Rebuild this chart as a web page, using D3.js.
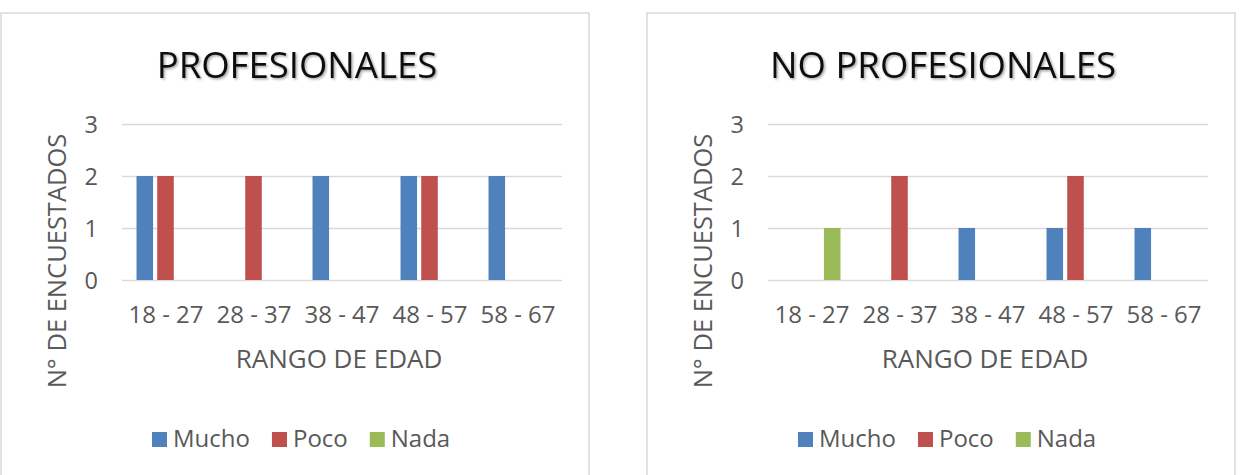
<!DOCTYPE html>
<html>
<head>
<meta charset="utf-8">
<script src="https://cdn.jsdelivr.net/npm/d3@7"></script>
<style>
  html, body { margin: 0; padding: 0; background: #fff; }
  svg { display: block; font-family: "Open Sans", sans-serif; }
</style>
</head>
<body>
<svg id="chart" width="1248" height="475"></svg>
<script>
// ---- data ----
const categories = ["18 - 27", "28 - 37", "38 - 47", "48 - 57", "58 - 67"];
const seriesNames = ["Mucho", "Poco", "Nada"];
const seriesColors = ["#4f81bd", "#c0504d", "#9bbb59"];
const yTicks = [0, 1, 2, 3];

const titles = ["PROFESIONALES", "NO PROFESIONALES"];
const profMucho = [2, 0, 2, 2, 2];
const profPoco  = [2, 2, 0, 2, 0];
const profNada  = [0, 0, 0, 0, 0];
const noProfMucho = [0, 0, 1, 1, 1];
const noProfPoco  = [0, 2, 0, 2, 0];
const noProfNada  = [1, 0, 0, 0, 0];

const yTitle = "N° DE ENCUESTADOS";
const xTitle = "RANGO DE EDAD";

// ---- drawing ----
const svg = d3.select("#chart");
const defs = svg.append("defs");
const f = defs.append("filter").attr("id", "shadow").attr("x", "-10%").attr("y", "-30%").attr("width", "120%").attr("height", "160%");
f.append("feDropShadow").attr("dx", 1.5).attr("dy", 1.5).attr("stdDeviation", 1.2)
  .attr("flood-color", "#000").attr("flood-opacity", 0.35);

const chartW = 588;
const chartOffsets = [1, 647];

function drawChart(ox, title, values) {
  const g = svg.append("g").attr("transform", `translate(${ox},0)`);
  g.append("rect").attr("x", 0).attr("y", 13).attr("width", chartW).attr("height", 480)
    .attr("fill", "#fff").attr("stroke", "#d9d9d9").attr("stroke-width", 1.5);

  const plotL = 121, plotR = 561, plotT = 124, plotB = 280;
  const x0 = d3.scaleBand().domain(categories).range([plotL, plotR]).paddingInner(0).paddingOuter(0);
  const x1 = d3.scaleBand().domain(seriesNames).range([-29.5, 28.5]).paddingInner(0.2).paddingOuter(0);
  const y = d3.scaleLinear().domain([0, 3]).range([plotB, plotT]);

  // title
  g.append("text").attr("x", chartW / 2 + 2).attr("y", 78).attr("text-anchor", "middle")
    .attr("font-size", 36.5).attr("fill", "#111").attr("filter", "url(#shadow)").text(title);

  // gridlines + y axis
  const yAxis = d3.axisLeft(y).tickValues(yTicks).tickSize(-(plotR - plotL)).tickPadding(24).tickFormat(d3.format("d"));
  const ya = g.append("g").attr("transform", `translate(${plotL},0)`).call(yAxis);
  ya.select(".domain").remove();
  ya.selectAll(".tick line").attr("stroke", "#d9d9d9").attr("stroke-width", 1.5);
  ya.selectAll(".tick text").attr("font-size", 23.5).attr("fill", "#595959")
    .attr("font-family", "Open Sans, sans-serif").attr("dy", "0.36em");

  // x axis labels
  const xAxis = d3.axisBottom(x0).tickSize(0).tickPadding(0);
  const xa = g.append("g").attr("transform", `translate(0,${plotB})`).call(xAxis);
  xa.select(".domain").remove();
  xa.selectAll(".tick text").attr("font-size", 24).attr("fill", "#595959")
    .attr("font-family", "Open Sans, sans-serif").attr("dy", null).attr("y", 43);

  // bars
  categories.forEach((c, i) => {
    seriesNames.forEach((s, j) => {
      const v = values[j][i];
      if (v <= 0) return;
      g.append("rect")
        .attr("x", x0(c) + x0.bandwidth() / 2 + x1(s))
        .attr("width", x1.bandwidth())
        .attr("y", y(v))
        .attr("height", y(0) - y(v))
        .attr("fill", seriesColors[j]);
    });
  });

  // axis titles
  g.append("text").attr("x", (plotL + plotR) / 2 - 3).attr("y", 368).attr("text-anchor", "middle")
    .attr("font-size", 26).attr("fill", "#595959").text(xTitle);
  g.append("text").attr("transform", `translate(65,261) rotate(-90)`).attr("text-anchor", "middle")
    .attr("font-size", 25.5).attr("fill", "#595959").text(yTitle);

  // legend
  const leg = g.append("g");
  let cx = 0;
  seriesNames.forEach((s, j) => {
    const it = leg.append("g").attr("transform", `translate(${cx},0)`);
    it.append("rect").attr("x", 0).attr("y", 432).attr("width", 15).attr("height", 15).attr("fill", seriesColors[j]);
    const t = it.append("text").attr("x", 21).attr("y", 447).attr("font-size", 24).attr("fill", "#595959").text(s);
    const w = t.node().getComputedTextLength();
    cx += 21 + w + 22;
  });
  leg.attr("transform", `translate(${151},0)`);
}

drawChart(chartOffsets[0], titles[0], [profMucho, profPoco, profNada]);
drawChart(chartOffsets[1], titles[1], [noProfMucho, noProfPoco, noProfNada]);
</script>
</body>
</html>
